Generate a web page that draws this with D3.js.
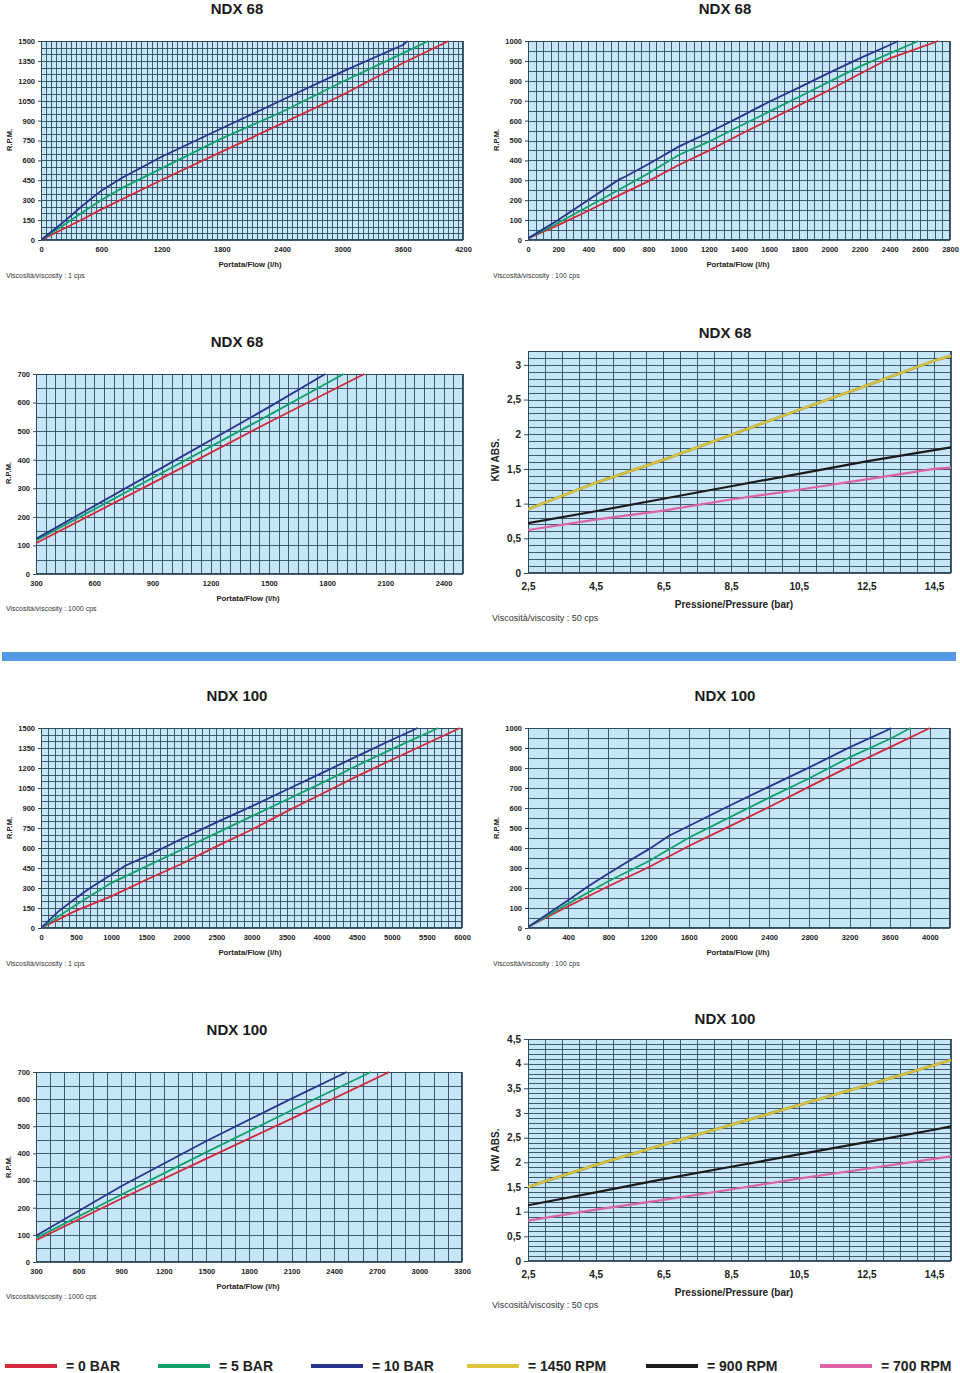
<!DOCTYPE html>
<html><head><meta charset="utf-8">
<script src="https://cdn.jsdelivr.net/npm/d3@7"></script>
<style>
html,body{margin:0;padding:0;background:#fff;}
svg{display:block;font-family:"Liberation Sans",Arial,sans-serif;}
</style></head>
<body>
<script>
// ---------- DATA ----------
// NDX 68, 1 cps (flow l/h, rpm)
const n68_1_bar0  = [[0,0],[200,75],[400,151],[600,231],[1200,452],[1800,666],[2400,879],[3000,1093],[3600,1332],[4057,1500]];
const n68_1_bar5  = [[0,0],[200,100],[400,201],[600,301],[800,389],[1200,540],[1800,766],[2400,967],[3000,1193],[3600,1407],[3855,1500]];
const n68_1_bar10 = [[0,0],[200,120],[400,251],[600,372],[800,465],[1200,628],[1800,842],[2400,1055],[3000,1269],[3600,1470],[3650,1500]];
// NDX 68, 100 cps
const n68_100_bar0  = [[0,8],[200,75],[400,147],[600,223],[800,296],[1000,377],[1200,449],[1400,528],[1600,603],[1800,678],[2000,754],[2200,834],[2400,913],[2722,1000]];
const n68_100_bar5  = [[0,8],[200,87],[400,168],[600,251],[800,335],[1000,427],[1200,494],[1400,570],[1600,645],[1800,720],[2000,796],[2200,871],[2400,938],[2590,1000]];
const n68_100_bar10 = [[0,8],[200,100],[400,201],[600,302],[650,320],[800,382],[1000,469],[1200,540],[1400,616],[1600,695],[1800,767],[2000,841],[2200,913],[2400,980],[2457,1000]];
// NDX 68, 1000 cps
const n68_1000_bar0  = [[300,108],[900,318],[1500,531],[1991,700]];
const n68_1000_bar5  = [[300,117],[900,336],[1500,556],[1885,700]];
const n68_1000_bar10 = [[300,123],[900,353],[1500,584],[1790,700]];
// NDX 68, KW ABS at 50 cps (pressure bar, kW)
const pressure = [2.5,4.5,6.5,8.5,10.5,12.5,14.5,15];
const n68_kw_1450 = [0.92,1.30,1.63,1.99,2.35,2.70,3.06,3.13];
const n68_kw_900  = [0.72,0.89,1.07,1.25,1.43,1.61,1.77,1.81];
const n68_kw_700  = [0.62,0.77,0.90,1.06,1.20,1.35,1.50,1.52];
// NDX 100, 1 cps
const n100_1_bar0  = [[0,0],[500,130],[1000,237],[1500,362],[2000,480],[2500,612],[3000,737],[3500,875],[4000,1005],[4500,1137],[5000,1262],[5971,1500]];
const n100_1_bar5  = [[0,0],[500,175],[1000,337],[1500,462],[2000,587],[2500,712],[3000,837],[3500,962],[4000,1087],[4500,1217],[5000,1342],[5663,1500]];
const n100_1_bar10 = [[0,0],[250,125],[500,225],[700,300],[1000,400],[1200,467],[1500,537],[2000,667],[2500,792],[3000,912],[3500,1037],[4000,1162],[4500,1287],[5000,1412],[5368,1500]];
// NDX 100, 100 cps
const n100_100_bar0  = [[0,5],[400,109],[800,209],[1200,304],[1600,410],[2000,507],[2400,605],[2800,707],[3200,808],[3600,903],[4000,1000]];
const n100_100_bar5  = [[0,5],[400,122],[800,234],[1200,334],[1600,451],[2000,552],[2400,652],[2800,749],[3200,853],[3600,945],[3807,1000]];
const n100_100_bar10 = [[0,5],[400,139],[600,209],[800,273],[1000,334],[1200,393],[1400,460],[1600,510],[2000,610],[2400,707],[2800,803],[3200,903],[3600,995],[3614,1000]];
// NDX 100, 1000 cps
const n100_1000_bar0  = [[300,80],[900,233],[1500,381],[2100,528],[2788,700]];
const n100_1000_bar5  = [[300,88],[900,248],[1500,405],[2100,559],[2659,700]];
const n100_1000_bar10 = [[300,97],[900,279],[1500,446],[2100,602],[2488,700]];
// NDX 100, KW ABS at 50 cps
const n100_kw_1450 = [1.50,1.95,2.36,2.76,3.16,3.56,3.97,4.07];
const n100_kw_900  = [1.13,1.39,1.66,1.91,2.16,2.41,2.66,2.73];
const n100_kw_700  = [0.82,1.04,1.24,1.45,1.67,1.87,2.07,2.12];

// tick labels
const ticks68_1x   = [0,600,1200,1800,2400,3000,3600,4200];
const ticks68_100x = d3.range(0,2801,200);
const ticks1000_68x = [300,600,900,1200,1500,1800,2100,2400];
const ticksKWx = [2.5,4.5,6.5,8.5,10.5,12.5,14.5];
const ticks100_1x = d3.range(0,6001,500);
const ticks100_100x = d3.range(0,4001,400);
const ticks1000_100x = d3.range(300,3301,300);
const ticksRpm1500 = d3.range(0,1501,150);
const ticksRpm1000 = d3.range(0,1001,100);
const ticksRpm700 = d3.range(0,701,100);
const ticksKW68 = [0,0.5,1,1.5,2,2.5,3];
const ticksKW100 = [0,0.5,1,1.5,2,2.5,3,3.5,4,4.5];

const legendLabels = ["= 0 BAR","= 5 BAR","= 10 BAR","= 1450 RPM","= 900 RPM","= 700 RPM"];

// ---------- STYLE ----------
const C = {bar0:"#d3283a", bar5:"#12a06a", bar10:"#27358f", r1450:"#dcc63e", r900:"#1b1b1b", r700:"#df62a8"};
const legendColors = [C.bar0,C.bar5,C.bar10,C.r1450,C.r900,C.r700];
const bg = "#c6e6f7", gridC = "#2d4b5e";

const svg = d3.select("body").append("svg").attr("width",960).attr("height",1373);

const fmtComma = d => String(d).replace(".",",");

function panel(o){
  const g = svg.append("g");
  const x = d3.scaleLinear().domain(o.xd).range([o.l,o.r]);
  const y = d3.scaleLinear().domain(o.yd).range([o.b,o.t]);
  g.append("rect").attr("x",o.l).attr("y",o.t).attr("width",o.r-o.l).attr("height",o.b-o.t).attr("fill",bg);
  const eps=1e-9;
  const vx = d3.range(o.xd[0], o.xd[1]+eps, o.xs);
  const hy = d3.range(o.yd[0], o.yd[1]+eps, o.ys);
  g.append("g").selectAll("line").data(vx).join("line")
    .attr("x1",d=>Math.round(x(d))+0.5).attr("x2",d=>Math.round(x(d))+0.5).attr("y1",o.t).attr("y2",o.b)
    .attr("stroke",gridC).attr("stroke-width",0.9);
  g.append("g").selectAll("line").data(hy).join("line")
    .attr("y1",d=>Math.round(y(d))+0.5).attr("y2",d=>Math.round(y(d))+0.5).attr("x1",o.l).attr("x2",o.r)
    .attr("stroke",gridC).attr("stroke-width",0.9);
  g.append("rect").attr("x",o.l+0.5).attr("y",o.t+0.5).attr("width",o.r-o.l-1).attr("height",o.b-o.t-1)
    .attr("fill","none").attr("stroke",gridC).attr("stroke-width",1);
  // axes
  const fs = o.fs;
  const ax = d3.axisBottom(x).tickValues(o.xt).tickSize(0).tickPadding(o.xpad).tickFormat(o.fmt||(d=>d));
  const ay = d3.axisLeft(y).tickValues(o.yt).tickSize(o.tk).tickPadding(o.ypad).tickFormat(o.fmt||(d=>d));
  const gx = g.append("g").attr("transform",`translate(0,${o.b})`).call(ax);
  const gy = g.append("g").attr("transform",`translate(${o.l},0)`).call(ay);
  [gx,gy].forEach(a=>{
    a.select(".domain").remove();
    a.selectAll("text").attr("font-size",fs).attr("font-weight","bold").attr("fill","#222").attr("font-family","Liberation Sans, Arial, sans-serif");
    a.selectAll("line").attr("stroke",gridC);
  });
  // lines
  const clip = "clip"+o.id;
  g.append("clipPath").attr("id",clip).append("rect").attr("x",o.l).attr("y",o.t-2).attr("width",o.r-o.l+2).attr("height",o.b-o.t+2);
  const line = d3.line().x(d=>x(d[0])).y(d=>y(d[1]));
  o.series.forEach(s=>{
    if(s.outline){
      g.append("path").datum(s.data).attr("d",line).attr("fill","none").attr("stroke",s.outline).attr("stroke-width",2.8).attr("clip-path",`url(#${clip})`);
    }
    g.append("path").datum(s.data).attr("d",line).attr("fill","none").attr("stroke",s.color)
      .attr("stroke-width",s.w||1.8).attr("clip-path",`url(#${clip})`);
  });
  // texts
  g.append("text").attr("x",o.tx).attr("y",o.ty).attr("text-anchor","middle").attr("dominant-baseline","central")
    .attr("font-size",15).attr("font-weight","bold").attr("fill","#1a1a1a").text(o.title);
  g.append("text").attr("x",o.xlx).attr("y",o.xly).attr("text-anchor","middle").attr("dominant-baseline","central")
    .attr("font-size",o.lfs).attr("font-weight","bold").attr("fill","#222").text(o.xlabel);
  g.append("text").attr("x",o.vx).attr("y",o.vy).attr("dominant-baseline","central")
    .attr("font-size",o.vfs).attr("fill","#333").text(o.visc);
  g.append("text").attr("transform",`translate(${o.ylx},${o.yly}) rotate(-90)`).attr("text-anchor","middle").attr("dominant-baseline","central")
    .attr("font-size",o.yfs).attr("font-weight","bold").attr("fill","#222").text(o.ylabel);
}

const zip = (xs,ys)=>xs.map((v,i)=>[v,ys[i]]);
const barSeries = (a,b,c)=>[{data:a,color:C.bar0},{data:b,color:C.bar5},{data:c,color:C.bar10}];
const kwSeries = (a,b,c)=>[{data:zip(pressure,a),color:C.r1450,outline:"#a89a3a",w:1.8},{data:zip(pressure,b),color:C.r900,w:2.2},{data:zip(pressure,c),color:C.r700,w:2.2}];

const flowCommon = {fs:7.5,tk:3,xpad:7,ypad:3,lfs:7.8,vfs:7,yfs:7.5,xlabel:"Portata/Flow (l/h)",ylabel:"R.P.M."};
const kwCommon = {fs:10,tk:4,xpad:10,ypad:3,lfs:10,vfs:9,yfs:10,xlabel:"Pressione/Pressure (bar)",ylabel:"KW ABS.",fmt:fmtComma,xs:0.5,ys:0.1};

panel(Object.assign({},flowCommon,{id:1,title:"NDX 68",l:41,r:463,t:41,b:240,xd:[0,4200],yd:[0,1500],xs:50,ys:50,xt:ticks68_1x,yt:ticksRpm1500,
  tx:237,ty:8,xlx:250,xly:264,vx:6,vy:275,ylx:9,yly:140,visc:"Viscosità/viscosity : 1 cps",series:barSeries(n68_1_bar0,n68_1_bar5,n68_1_bar10)}));
panel(Object.assign({},flowCommon,{id:2,title:"NDX 68",l:528,r:950,t:41,b:240,xd:[0,2800],yd:[0,1000],xs:50,ys:50,xt:ticks68_100x,yt:ticksRpm1000,
  tx:725,ty:8,xlx:738,xly:264,vx:493,vy:275,ylx:496,yly:140,visc:"Viscosità/viscosity : 100 cps",series:barSeries(n68_100_bar0,n68_100_bar5,n68_100_bar10)}));
panel(Object.assign({},flowCommon,{id:3,title:"NDX 68",l:36,r:463,t:374,b:574,xd:[300,2500],yd:[0,700],xs:50,ys:50,xt:ticks1000_68x,yt:ticksRpm700,
  tx:237,ty:341,xlx:248,xly:598,vx:6,vy:608,ylx:8,yly:473,visc:"Viscosità/viscosity : 1000 cps",series:barSeries(n68_1000_bar0,n68_1000_bar5,n68_1000_bar10)}));
panel(Object.assign({},kwCommon,{id:4,title:"NDX 68",l:528,r:951,t:351,b:573,xd:[2.5,15],yd:[0,3.2],xt:ticksKWx,yt:ticksKW68,
  tx:725,ty:332,xlx:734,xly:604,vx:492,vy:618,ylx:495,yly:460,visc:"Viscosità/viscosity : 50 cps",series:kwSeries(n68_kw_1450,n68_kw_900,n68_kw_700)}));
panel(Object.assign({},flowCommon,{id:5,title:"NDX 100",l:41,r:462,t:728,b:928,xd:[0,6000],yd:[0,1500],xs:100,ys:50,xt:ticks100_1x,yt:ticksRpm1500,
  tx:237,ty:695,xlx:250,xly:952,vx:6,vy:963,ylx:9,yly:828,visc:"Viscosità/viscosity : 1 cps",series:barSeries(n100_1_bar0,n100_1_bar5,n100_1_bar10)}));
panel(Object.assign({},flowCommon,{id:6,title:"NDX 100",l:528,r:950,t:728,b:928,xd:[0,4200],yd:[0,1000],xs:200,ys:50,xt:ticks100_100x,yt:ticksRpm1000,
  tx:725,ty:695,xlx:738,xly:952,vx:493,vy:963,ylx:496,yly:828,visc:"Viscosità/viscosity : 100 cps",series:barSeries(n100_100_bar0,n100_100_bar5,n100_100_bar10)}));
panel(Object.assign({},flowCommon,{id:7,title:"NDX 100",l:36,r:462,t:1072,b:1262,xd:[300,3300],yd:[0,700],xs:100,ys:50,xt:ticks1000_100x,yt:ticksRpm700,
  tx:237,ty:1029,xlx:248,xly:1286,vx:6,vy:1296,ylx:8,yly:1167,visc:"Viscosità/viscosity : 1000 cps",series:barSeries(n100_1000_bar0,n100_1000_bar5,n100_1000_bar10)}));
panel(Object.assign({},kwCommon,{id:8,title:"NDX 100",l:528,r:951,t:1039,b:1261,xd:[2.5,15],yd:[0,4.5],xt:ticksKWx,yt:ticksKW100,
  tx:725,ty:1018,xlx:734,xly:1292,vx:492,vy:1305,ylx:495,yly:1150,visc:"Viscosità/viscosity : 50 cps",series:kwSeries(n100_kw_1450,n100_kw_900,n100_kw_700)}));

// separator bar
svg.append("rect").attr("x",2).attr("y",652).attr("width",954).attr("height",9).attr("fill","#5399e4");

// legend
const legX = [5,158,311,467,646,820];
const lg = svg.append("g").selectAll("g").data(legendLabels).join("g").attr("transform",(d,i)=>`translate(${legX[i]},1366)`);
lg.append("line").attr("x1",0).attr("x2",52).attr("y1",0).attr("y2",0).attr("stroke",(d,i)=>legendColors[i]).attr("stroke-width",4);
lg.append("text").attr("x",61).attr("y",0).attr("dominant-baseline","central").attr("font-size",14).attr("font-weight","bold")
  .attr("fill","#222").text(d=>d);
</script>
</body></html>
